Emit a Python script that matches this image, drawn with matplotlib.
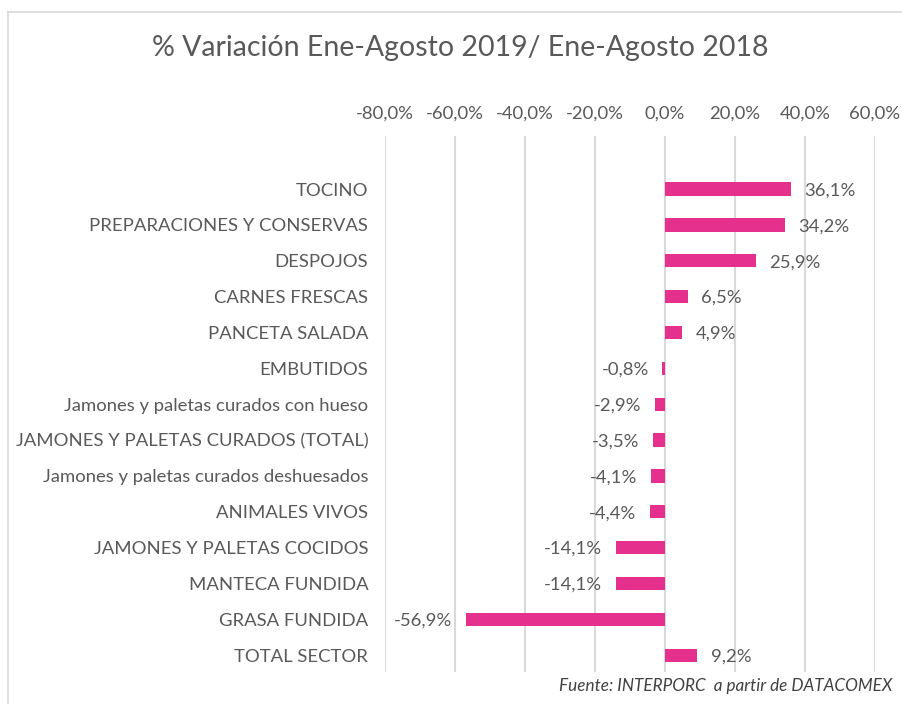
import matplotlib.pyplot as plt
from matplotlib.lines import Line2D

plt.rcParams['font.family'] = ['Lato', 'DejaVu Sans']

categories = ['TOCINO', 'PREPARACIONES Y CONSERVAS', 'DESPOJOS', 'CARNES FRESCAS',
              'PANCETA SALADA', 'EMBUTIDOS', 'Jamones y paletas curados con hueso',
              'JAMONES Y PALETAS CURADOS (TOTAL)', 'Jamones y paletas curados deshuesados',
              'ANIMALES VIVOS', 'JAMONES Y PALETAS COCIDOS', 'MANTECA FUNDIDA',
              'GRASA FUNDIDA', 'TOTAL SECTOR']
values = [36.1, 34.2, 25.9, 6.5, 4.9, -0.8, -2.9, -3.5, -4.1, -4.4, -14.1, -14.1, -56.9, 9.2]
xticks = [-80, -60, -40, -20, 0, 20, 40, 60]

text_col = '#595959'
bar_col = '#E5308D'

fig = plt.figure(figsize=(9.02, 7.04), dpi=100)
ax = fig.add_axes([385/902, 1 - 672/704, 490/902, 536/704])

ypos = list(range(len(categories)))
ax.barh(ypos, values, height=0.37, color=bar_col, zorder=3)

for y, v in zip(ypos, values):
    lab = '{:.1f}%'.format(v).replace('.', ',')
    if v >= 0:
        ax.text(v + 3.8, y + 0.04, lab, ha='left', va='center', fontsize=13.3, color=text_col)
    else:
        ax.text(v - 3.8, y + 0.04, lab, ha='right', va='center', fontsize=13.3, color=text_col)

ax.set_xlim(-80, 60)
ax.set_ylim(13.47, -1.48)
ax.set_xticks(xticks)
ax.set_xticklabels(['{:.1f}%'.format(t).replace('.', ',') for t in xticks])
ax.xaxis.tick_top()
ax.tick_params(axis='x', length=0, pad=10, labelsize=13.3, labelcolor=text_col)
ax.set_yticks(ypos)
ax.set_yticklabels(categories)
ax.tick_params(axis='y', length=0, pad=12, labelsize=13.3, labelcolor=text_col)
ax.grid(axis='x', color='#D9D9D9', linewidth=1.5, zorder=0)
for s in ax.spines.values():
    s.set_visible(False)

fig.text(460/902, 1 - 48/704, '% Variación Ene-Agosto 2019/ Ene-Agosto 2018',
         ha='center', va='center', fontsize=20.5, color=text_col)
fig.text(892/902, 1 - 686/704, 'Fuente: INTERPORC  a partir de DATACOMEX',
         ha='right', va='center', fontsize=12.3, style='italic', color='#404040')

# chart border (left and top visible in the crop)
fig.add_artist(Line2D([8/902, 8/902], [0, 1 - 12/704], transform=fig.transFigure,
                      color='#D9D9D9', linewidth=1.2))
fig.add_artist(Line2D([8/902, 1], [1 - 12/704, 1 - 12/704], transform=fig.transFigure,
                      color='#D9D9D9', linewidth=1.2))

fig.savefig('out.png', dpi=100)
